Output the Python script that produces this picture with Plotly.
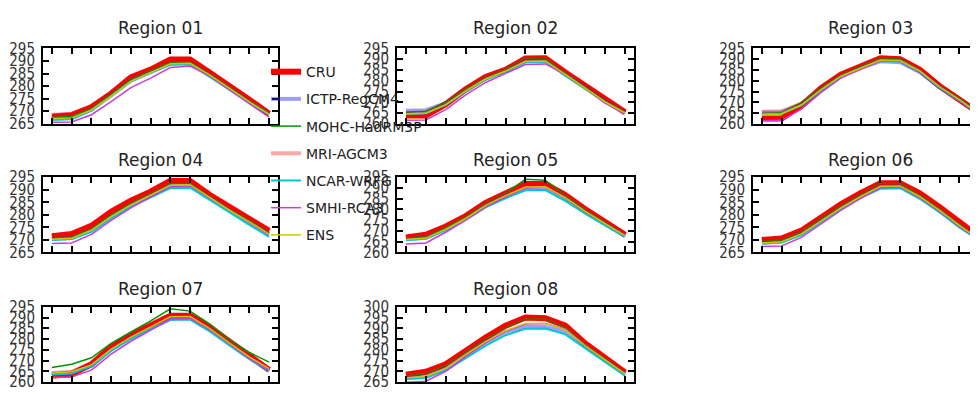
import plotly.graph_objects as go

MONTHS = [1, 2, 3, 4, 5, 6, 7, 8, 9, 10, 11, 12]
MODELS = ["CRU", "ICTP-RegCM4", "MOHC-HadRM3P", "MRI-AGCM3", "NCAR-WRFG", "SMHI-RCA3", "ENS"]
REGIONS = ["Region 01", "Region 02", "Region 03", "Region 04", "Region 05", "Region 06", "Region 07", "Region 08"]
Y_RANGES = [[265, 295], [260, 295], [260, 295], [265, 295], [260, 295], [265, 295], [260, 295], [265, 300]]

# Region 01
R01_CRU  = [267.8, 268.4, 271.6, 277.0, 283.5, 286.6, 290.6, 290.6, 285.3, 280.2, 274.6, 269.0]
R01_ICTP = [267.0, 267.2, 270.6, 276.3, 282.2, 285.6, 289.0, 289.2, 284.4, 279.0, 273.5, 268.5]
R01_MOHC = [267.6, 267.9, 271.2, 276.8, 282.8, 286.0, 289.5, 289.6, 284.8, 279.6, 274.1, 269.4]
R01_MRI  = [268.6, 269.0, 272.0, 277.4, 283.4, 286.4, 290.0, 290.2, 285.0, 279.9, 274.4, 268.9]
R01_NCAR = [266.6, 266.9, 270.2, 276.0, 281.9, 285.4, 288.5, 288.7, 283.6, 278.6, 273.4, 268.8]
R01_SMHI = [265.6, 265.7, 268.6, 273.8, 279.4, 283.2, 287.4, 288.0, 284.0, 278.6, 273.0, 267.6]
R01_ENS  = [267.1, 267.3, 270.5, 276.0, 281.9, 285.3, 288.9, 289.1, 284.4, 279.1, 273.7, 268.7]
# Region 02
R02_CRU  = [263.8, 263.8, 269.1, 276.0, 281.8, 285.1, 290.3, 290.4, 283.8, 277.6, 270.8, 265.3]
R02_ICTP = [266.0, 266.3, 269.6, 275.6, 281.0, 284.6, 289.0, 289.2, 283.0, 277.0, 270.4, 265.0]
R02_MOHC = [265.4, 265.8, 270.0, 276.2, 281.6, 285.4, 290.6, 290.2, 283.6, 277.3, 270.6, 265.6]
R02_MRI  = [265.0, 265.2, 269.4, 275.9, 281.4, 284.9, 289.8, 289.9, 283.4, 277.2, 270.5, 265.1]
R02_NCAR = [264.6, 264.9, 268.8, 275.0, 280.6, 284.2, 288.7, 288.9, 282.4, 276.2, 270.0, 264.8]
R02_SMHI = [261.6, 261.8, 266.6, 273.4, 279.2, 283.4, 287.5, 287.8, 282.8, 276.4, 269.6, 264.6]
R02_ENS  = [264.6, 264.9, 268.9, 275.3, 280.8, 284.5, 289.1, 289.2, 283.0, 276.8, 270.2, 265.0]
# Region 03
R03_CRU  = [262.4, 262.4, 268.4, 276.6, 282.8, 286.6, 290.4, 290.0, 285.1, 277.5, 271.6, 265.0]
R03_ICTP = [265.2, 265.4, 269.2, 276.0, 282.2, 286.0, 289.0, 288.6, 284.0, 277.0, 271.2, 264.8]
R03_MOHC = [264.8, 265.2, 269.8, 276.8, 282.6, 286.8, 290.6, 290.2, 284.8, 277.4, 271.8, 265.4]
R03_MRI  = [265.6, 265.8, 269.4, 276.4, 282.6, 286.4, 290.0, 289.8, 284.8, 277.6, 271.4, 264.6]
R03_NCAR = [264.4, 264.8, 268.6, 275.6, 281.8, 285.8, 289.2, 289.0, 284.2, 276.8, 270.8, 264.2]
R03_SMHI = [261.4, 261.6, 266.8, 274.6, 281.2, 285.4, 289.4, 289.2, 284.6, 277.2, 271.0, 264.4]
R03_ENS  = [264.3, 264.6, 268.7, 275.9, 282.1, 286.0, 289.6, 289.4, 284.5, 277.2, 271.2, 264.7]
# Region 04
R04_CRU  = [271.5, 272.4, 275.6, 281.2, 285.6, 289.2, 293.6, 293.5, 287.9, 283.0, 278.6, 273.6]
R04_ICTP = [270.4, 270.8, 273.8, 279.4, 284.0, 287.8, 291.6, 291.8, 286.6, 281.6, 277.2, 272.4]
R04_MOHC = [270.8, 271.2, 274.6, 280.0, 284.6, 288.4, 292.4, 292.6, 287.2, 282.2, 277.8, 272.8]
R04_MRI  = [271.2, 271.8, 275.2, 280.8, 285.2, 288.8, 293.0, 293.2, 287.6, 282.6, 278.2, 273.2]
R04_NCAR = [270.0, 270.4, 273.2, 278.6, 283.2, 287.0, 290.6, 290.8, 286.0, 281.0, 276.0, 271.2]
R04_SMHI = [268.6, 268.8, 272.2, 277.8, 282.8, 287.2, 291.2, 291.6, 286.8, 281.8, 277.0, 272.0]
R04_ENS  = [270.3, 270.7, 273.8, 279.3, 284.0, 287.8, 291.8, 292.0, 286.8, 281.8, 277.2, 272.3]
# Region 05
R05_CRU  = [267.0, 268.2, 272.1, 276.9, 283.0, 287.4, 291.8, 291.8, 286.7, 280.1, 274.3, 268.2]
R05_ICTP = [266.2, 266.8, 270.8, 275.8, 281.8, 286.0, 289.6, 289.8, 285.0, 278.8, 273.2, 267.6]
R05_MOHC = [266.6, 267.6, 271.6, 276.6, 282.8, 287.6, 294.0, 293.6, 286.6, 279.8, 274.0, 268.0]
R05_MRI  = [266.8, 267.8, 271.8, 276.6, 282.6, 287.0, 291.2, 291.4, 286.2, 279.6, 274.0, 268.0]
R05_NCAR = [265.8, 266.4, 270.4, 275.2, 281.0, 285.2, 288.9, 289.0, 284.0, 278.0, 272.6, 267.4]
R05_SMHI = [264.0, 264.4, 269.4, 275.0, 281.2, 285.8, 290.0, 290.4, 285.4, 279.0, 273.4, 267.8]
R05_ENS  = [266.0, 266.7, 270.8, 275.8, 281.9, 286.4, 290.4, 290.5, 285.5, 279.1, 273.4, 267.8]
# Region 06
R06_CRU  = [270.0, 270.6, 273.7, 279.3, 284.2, 288.6, 292.6, 292.6, 288.6, 283.0, 276.8, 271.2]
R06_ICTP = [268.8, 269.4, 272.4, 277.8, 283.0, 287.4, 291.2, 291.4, 287.0, 281.6, 275.6, 270.2]
R06_MOHC = [269.4, 270.0, 273.2, 278.6, 283.6, 288.0, 292.6, 292.4, 287.8, 282.4, 276.2, 270.6]
R06_MRI  = [269.8, 270.4, 273.4, 279.0, 284.0, 288.2, 292.2, 292.2, 288.2, 282.6, 276.4, 270.8]
R06_NCAR = [268.6, 269.0, 272.0, 277.2, 282.4, 286.8, 290.4, 290.6, 286.4, 281.0, 275.0, 269.8]
R06_SMHI = [267.4, 267.6, 271.0, 276.4, 281.8, 286.6, 290.8, 291.2, 286.8, 281.4, 275.4, 270.0]
R06_ENS  = [268.8, 269.3, 272.4, 277.7, 282.8, 287.3, 291.4, 291.5, 287.2, 281.8, 275.8, 270.3]
# Region 07
R07_CRU  = [263.0, 263.8, 268.3, 276.5, 281.8, 286.3, 290.8, 290.8, 285.5, 278.8, 272.0, 265.7]
R07_ICTP = [263.8, 264.4, 267.6, 275.0, 280.6, 285.2, 289.4, 289.6, 284.2, 277.6, 271.2, 265.4]
R07_MOHC = [266.8, 268.3, 271.3, 278.0, 283.3, 288.5, 294.1, 293.0, 287.0, 279.5, 273.8, 269.3]
R07_MRI  = [264.2, 264.8, 268.6, 276.0, 281.4, 286.0, 290.4, 290.6, 285.2, 278.4, 271.8, 265.8]
R07_NCAR = [263.6, 264.0, 267.4, 274.6, 280.2, 284.8, 289.0, 289.2, 283.6, 277.2, 270.8, 265.2]
R07_SMHI = [262.3, 262.4, 265.6, 273.0, 279.0, 284.0, 289.3, 289.6, 284.4, 277.8, 271.0, 265.6]
R07_ENS  = [264.1, 264.8, 268.0, 275.3, 280.9, 285.7, 290.4, 290.5, 284.9, 278.1, 271.7, 266.3]
# Region 08
R08_CRU  = [268.4, 269.8, 273.3, 279.7, 285.7, 291.2, 295.0, 294.7, 291.3, 283.0, 276.3, 269.5]
R08_ICTP = [267.0, 267.4, 271.4, 277.8, 283.6, 288.4, 290.6, 290.6, 288.4, 281.4, 275.0, 268.6]
R08_MOHC = [268.0, 269.0, 272.8, 279.0, 285.0, 290.2, 294.4, 294.2, 290.6, 282.4, 275.8, 269.2]
R08_MRI  = [268.2, 269.4, 273.0, 279.4, 285.4, 290.8, 294.6, 294.4, 291.0, 282.8, 276.0, 269.3]
R08_NCAR = [266.5, 267.0, 270.4, 276.3, 282.0, 286.8, 289.8, 289.9, 287.2, 280.8, 274.4, 268.0]
R08_SMHI = [265.0, 265.4, 270.0, 277.0, 283.2, 288.6, 292.0, 292.2, 289.6, 282.0, 275.4, 269.0]
R08_ENS  = [267.0, 267.6, 271.5, 277.9, 283.8, 288.9, 292.3, 292.3, 289.4, 281.9, 275.3, 268.8]

REGION_DATA = [
    [R01_CRU, R01_ICTP, R01_MOHC, R01_MRI, R01_NCAR, R01_SMHI, R01_ENS],
    [R02_CRU, R02_ICTP, R02_MOHC, R02_MRI, R02_NCAR, R02_SMHI, R02_ENS],
    [R03_CRU, R03_ICTP, R03_MOHC, R03_MRI, R03_NCAR, R03_SMHI, R03_ENS],
    [R04_CRU, R04_ICTP, R04_MOHC, R04_MRI, R04_NCAR, R04_SMHI, R04_ENS],
    [R05_CRU, R05_ICTP, R05_MOHC, R05_MRI, R05_NCAR, R05_SMHI, R05_ENS],
    [R06_CRU, R06_ICTP, R06_MOHC, R06_MRI, R06_NCAR, R06_SMHI, R06_ENS],
    [R07_CRU, R07_ICTP, R07_MOHC, R07_MRI, R07_NCAR, R07_SMHI, R07_ENS],
    [R08_CRU, R08_ICTP, R08_MOHC, R08_MRI, R08_NCAR, R08_SMHI, R08_ENS],
]

STYLES = [
    dict(color="rgb(255,0,0)", width=6),
    dict(color="rgba(40,40,255,0.45)", width=4),
    dict(color="rgb(0,150,0)", width=1.5),
    dict(color="rgba(255,0,0,0.35)", width=4),
    dict(color="rgb(0,200,200)", width=2),
    dict(color="rgb(200,60,220)", width=1.5),
    dict(color="rgb(200,200,0)", width=1.5),
]

# The page body has an 8px margin; layout coordinates below are page pixels.
OFF = 8
W, H = 978 - OFF, 394 - OFF
COL_PX = [(43, 278), (397, 634), (753, 988)]
ROW_PX = [(41, 120), (176, 255), (312, 391)]
TITLE_Y_PX = [20, 158, 293]


def px_x(v):
    return (v - OFF) / W


def px_y(v):
    return 1 - (v - OFF) / H


fig = go.Figure()
for i, name in enumerate(REGIONS):
    r, c = divmod(i, 3)
    ax = "" if i == 0 else str(i + 1)
    x0, x1 = COL_PX[c]
    y0, y1 = ROW_PX[r]
    scale = (x1 - x0) / 11.9
    xr0 = 0.55
    xend = min(x1, W + OFF)
    xr1 = xr0 + (xend - x0) / scale
    for k, m in enumerate(MODELS):
        fig.add_trace(go.Scatter(
            x=MONTHS, y=REGION_DATA[i][k], mode="lines", name=m,
            line=STYLES[k], legendgroup=m, showlegend=(i == 0),
            xaxis="x" + ax, yaxis="y" + ax))
    fig.layout["xaxis" + ax] = dict(
        domain=[px_x(x0), px_x(xend)], range=[xr0, xr1], anchor="y" + ax,
        tickvals=MONTHS, showticklabels=False, ticks="inside", ticklen=6,
        tickwidth=1.5, tickcolor="black", showline=True, linewidth=2,
        linecolor="black", mirror="allticks", showgrid=False, zeroline=False)
    fig.layout["yaxis" + ax] = dict(
        domain=[px_y(y1), px_y(y0)], range=Y_RANGES[i], anchor="x" + ax,
        dtick=5, ticks="inside", ticklen=6, tickwidth=1.5, tickcolor="black",
        showline=True, linewidth=2, linecolor="black",
        mirror=("allticks" if c < 2 else False), showgrid=False, zeroline=False,
        tickfont=dict(family="Liberation Sans Narrow, DejaVu Sans Condensed, DejaVu Sans", size=15, color="#333"),
        ticklabelstandoff=3)
    fig.add_annotation(
        text=name, x=px_x((x0 + x1) / 2), y=px_y(TITLE_Y_PX[r]), xref="paper", yref="paper",
        showarrow=False, xanchor="center", yanchor="middle",
        font=dict(family="DejaVu Sans", size=17, color="#222"))

fig.update_layout(
    width=W, height=H, margin=dict(l=0, r=0, t=0, b=0),
    paper_bgcolor="white", plot_bgcolor="white",
    showlegend=True,
    legend=dict(x=px_x(266), y=px_y(49), xanchor="left", yanchor="top",
                bgcolor="rgba(0,0,0,0)", borderwidth=0, tracegroupgap=6,
                font=dict(family="DejaVu Sans", size=14, color="#222")),
)

fig.write_html("out.html")
